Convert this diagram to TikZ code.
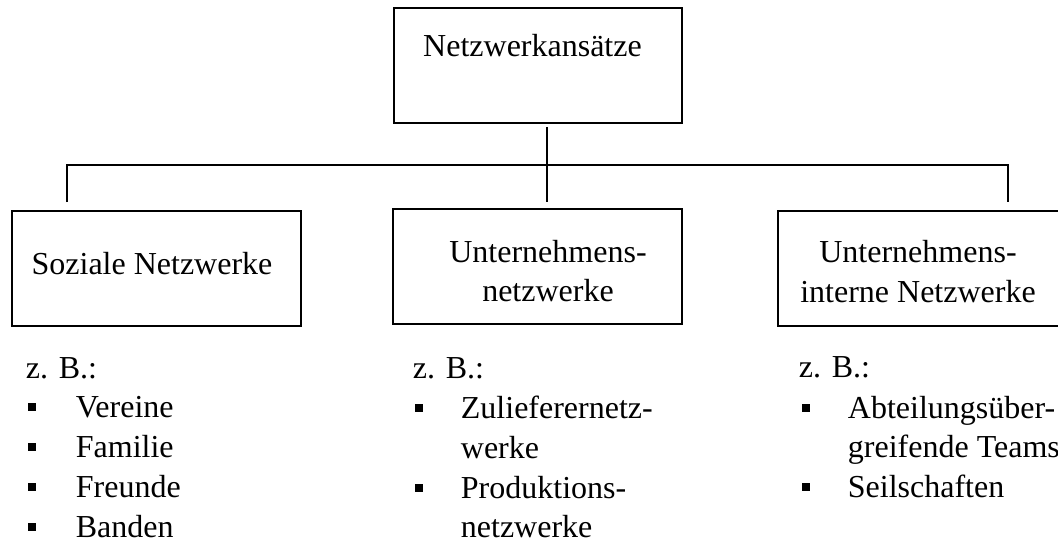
\documentclass[tikz,border=0pt]{standalone}
\usepackage{fontspec}
\setmainfont{Liberation Serif}
\begin{document}
\begin{tikzpicture}[x=0.5pt,y=-0.5pt,line width=0.9pt,
  box/.style={draw,inner sep=0pt,minimum width=144.5pt,minimum height=57.5pt},
  txt/.style={anchor=base,inner sep=0pt,font=\fontsize{16}{20}\selectfont},
  item/.style={txt,anchor=base west}]
  \useasboundingbox (0,0) rectangle (1058,540);
  % boxes
  \node[box,minimum width=144pt] (root) at (538,65.5) {};
  \node[box] (soc) at (156.5,268.5) {};
  \node[box] (firm) at (537.5,266.5) {};
  \node[box] (intern) at (922.5,268.5) {};
  \node[txt] (rootname) at (532.5,57) {Netzwerkansätze};
  \node[txt] (socname) at (152,274) {Soziale Netzwerke};
  \node[txt] (firmname1) at (548,262) {Unternehmens-};
  \node[txt] (firmname2) at (548,301) {netzwerke};
  \node[txt] (internname1) at (918,262) {Unternehmens-};
  \node[txt] (internname2) at (918,302) {interne Netzwerke};
  % connectors
  \coordinate (jl) at (67,165);
  \coordinate (jm) at (547,165);
  \coordinate (jr) at (1008,165);
  \draw ([yshift=4pt]soc.north -| jl) -- (jl) -- (jr) -- ([yshift=4pt]intern.north -| jr);
  \draw ([yshift=-1.5pt]root.south -| jm) -- ([yshift=3pt]firm.north -| jm);
  % lists
  \node[item] (socex) at (25,378) {z. B.:};
  \foreach \t [count=\i] in {Vereine,Familie,Freunde,Banden} {
    \node[item] (soc\i) at (75,{377+40*\i}) {\t};
    \fill ([xshift=-23.5pt,yshift=3pt]soc\i.base west) rectangle +(4pt,4pt);
  }
  \node[item] (firmex) at (412,378) {z. B.:};
  \node[item] (firm1) at (460,418) {Zulieferernetz-};
  \node[item] (firm2) at (460,458) {werke};
  \node[item] (firm3) at (460,498) {Produktions-};
  \node[item] (firm4) at (460,537) {netzwerke};
  \node[item] (internex) at (798,377) {z. B.:};
  \node[item] (intern1) at (847,418) {Abteilungsüber-};
  \node[item] (intern2) at (847,457) {greifende Teams};
  \node[item] (intern3) at (847,497) {Seilschaften};
  \foreach \n in {firm1,firm3,intern1,intern3}
    \fill ([xshift=-22.5pt,yshift=3pt]\n.base west) rectangle +(4pt,4pt);
\end{tikzpicture}
\end{document}
